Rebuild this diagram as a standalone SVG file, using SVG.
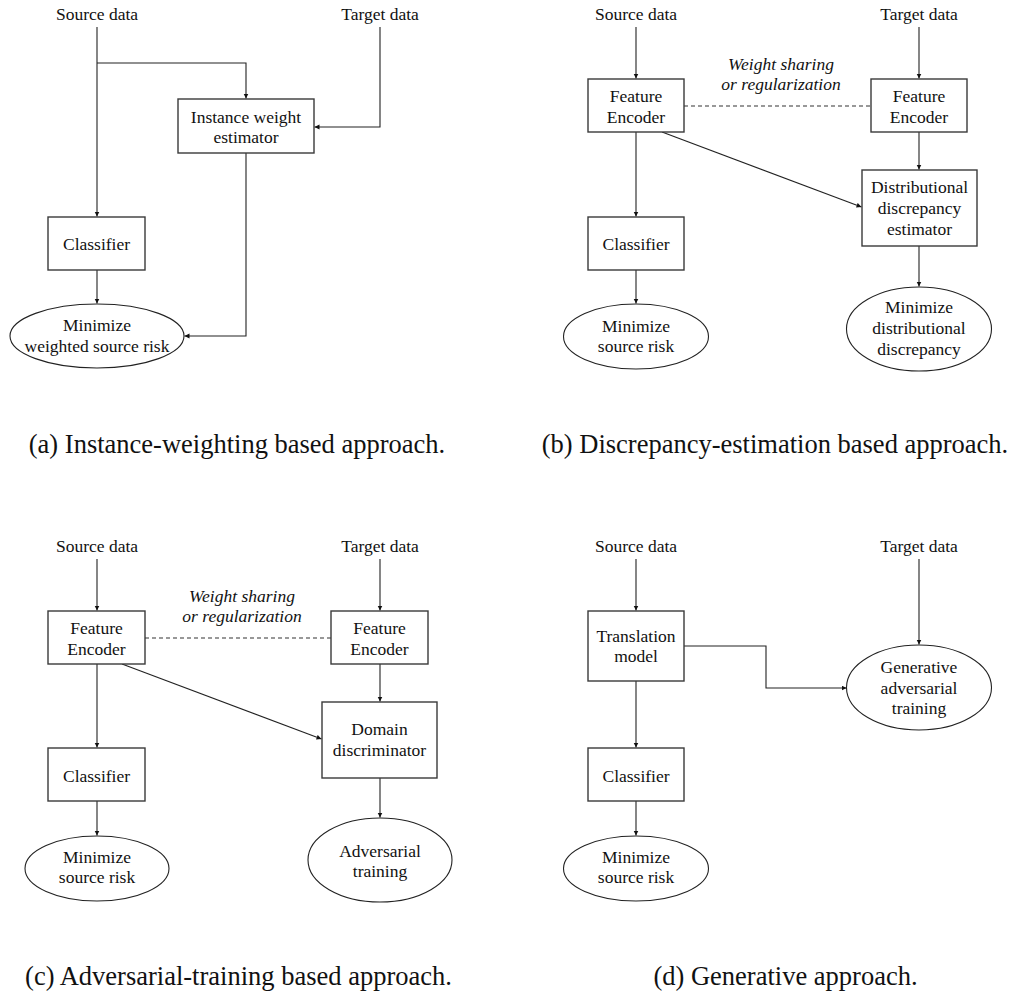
<svg xmlns="http://www.w3.org/2000/svg" width="1012" height="994" viewBox="0 0 1012 994" font-family="Liberation Serif, DejaVu Serif, serif">
  <style>
    text { font-family: 'Liberation Serif', 'DejaVu Serif', serif; fill: #111; }
    .lbl { font-size: 17.5px; text-anchor: middle; }
    .it { font-size: 17.5px; font-style: italic; text-anchor: middle; }
    .cap { font-size: 26.5px; text-anchor: middle; }
    .box { fill: #fff; stroke: #3a3a3a; stroke-width: 1.4; }
    .oval { fill: #fff; stroke: #222; stroke-width: 1.1; }
    .wire { fill: none; stroke: #222; stroke-width: 1.1; }
    .arr { marker-end: url(#head); }
    .dash { fill: none; stroke: #333; stroke-width: 1.1; stroke-dasharray: 4 3; }
  </style>
  <defs>
    <marker id="head" markerUnits="userSpaceOnUse" markerWidth="6" markerHeight="6" refX="5" refY="2.5" orient="auto">
      <path d="M0,0 L5,2.5 L0,5 z" fill="#111"/>
    </marker>
  </defs>
  <rect width="1012" height="994" fill="#fff"/>

  <!-- connectors -->
  <g id="connectors">
    <!-- (a) instance weighting -->
    <path class="wire arr" d="M97,27 V216.5"/>
    <path class="wire arr" d="M97,63 H246 V98.5"/>
    <path class="wire arr" d="M380,27 V127 H314.5"/>
    <path class="wire arr" d="M246,153 V336 H184.5"/>
    <path class="wire arr" d="M97,270 V303.5"/>
    <!-- (b) discrepancy estimation -->
    <path class="wire arr" d="M636,27 V78.5"/>
    <path class="wire arr" d="M919,27 V78.5"/>
    <path class="dash" d="M684,106 H871"/>
    <path class="wire arr" d="M636,132 V216.5"/>
    <path class="wire arr" d="M636,270 V303.5"/>
    <path class="wire arr" d="M919,132 V169.5"/>
    <path class="wire arr" d="M662,132 L861.5,207"/>
    <path class="wire arr" d="M919,246 V286.5"/>
    <!-- (c) adversarial training -->
    <path class="wire arr" d="M97,559 V610.5"/>
    <path class="wire arr" d="M380,559 V610.5"/>
    <path class="dash" d="M145,638 H331"/>
    <path class="wire arr" d="M380,664 V701.5"/>
    <path class="wire arr" d="M122,664 L321.5,739"/>
    <path class="wire arr" d="M380,778 V817.5"/>
    <path class="wire arr" d="M97,664 V747.5"/>
    <path class="wire arr" d="M97,801 V835.5"/>
    <!-- (d) generative -->
    <path class="wire arr" d="M636,559 V610.5"/>
    <path class="wire arr" d="M684,646 H766 V688 H846.5"/>
    <path class="wire arr" d="M919,559 V644.5"/>
    <path class="wire arr" d="M636,681 V747.5"/>
    <path class="wire arr" d="M636,801 V835.5"/>
  </g>

  <!-- (a) Instance-weighting based approach -->
  <g id="a-source"><text class="lbl" x="97" y="20">Source data</text></g>
  <g id="a-target"><text class="lbl" x="380" y="20">Target data</text></g>
  <g id="a-estimator">
    <rect class="box" x="178" y="99" width="136" height="54"/>
    <text class="lbl" x="246" y="122.5">Instance weight</text>
    <text class="lbl" x="246" y="143">estimator</text>
  </g>
  <g id="a-classifier">
    <rect class="box" x="48" y="217" width="97" height="53"/>
    <text class="lbl" x="96.5" y="250">Classifier</text>
  </g>
  <g id="a-risk">
    <ellipse class="oval" cx="97" cy="336" rx="87" ry="32"/>
    <text class="lbl" x="97" y="330.5">Minimize</text>
    <text class="lbl" x="97" y="351.5">weighted source risk</text>
  </g>
  <g id="a-caption"><text class="cap" x="237" y="453">(a) Instance-weighting based approach.</text></g>

  <!-- (b) Discrepancy-estimation based approach -->
  <g id="b-source"><text class="lbl" x="636" y="20">Source data</text></g>
  <g id="b-target"><text class="lbl" x="919" y="20">Target data</text></g>
  <g id="b-encoder-s">
    <rect class="box" x="588" y="79" width="96" height="53"/>
    <text class="lbl" x="636" y="101.5">Feature</text>
    <text class="lbl" x="636" y="122.5">Encoder</text>
  </g>
  <g id="b-encoder-t">
    <rect class="box" x="871" y="79" width="96" height="53"/>
    <text class="lbl" x="919" y="101.5">Feature</text>
    <text class="lbl" x="919" y="122.5">Encoder</text>
  </g>
  <g id="b-share">
    <text class="it" x="781" y="70">Weight sharing</text>
    <text class="it" x="781" y="90">or regularization</text>
  </g>
  <g id="b-classifier">
    <rect class="box" x="588" y="217" width="96" height="53"/>
    <text class="lbl" x="636" y="250">Classifier</text>
  </g>
  <g id="b-risk">
    <ellipse class="oval" cx="636" cy="336.5" rx="72.5" ry="32.5"/>
    <text class="lbl" x="636" y="331.5">Minimize</text>
    <text class="lbl" x="636" y="351.5">source risk</text>
  </g>
  <g id="b-estimator">
    <rect class="box" x="862" y="170" width="115" height="76"/>
    <text class="lbl" x="919.5" y="192.5">Distributional</text>
    <text class="lbl" x="919.5" y="213.5">discrepancy</text>
    <text class="lbl" x="919.5" y="234.5">estimator</text>
  </g>
  <g id="b-minimize">
    <ellipse class="oval" cx="919" cy="329" rx="72.5" ry="42"/>
    <text class="lbl" x="919" y="313">Minimize</text>
    <text class="lbl" x="919" y="334">distributional</text>
    <text class="lbl" x="919" y="355">discrepancy</text>
  </g>
  <g id="b-caption"><text class="cap" x="775" y="453">(b) Discrepancy-estimation based approach.</text></g>

  <!-- (c) Adversarial-training based approach -->
  <g id="c-source"><text class="lbl" x="97" y="552">Source data</text></g>
  <g id="c-target"><text class="lbl" x="380" y="552">Target data</text></g>
  <g id="c-encoder-s">
    <rect class="box" x="48" y="611" width="97" height="53"/>
    <text class="lbl" x="96.5" y="633.5">Feature</text>
    <text class="lbl" x="96.5" y="654.5">Encoder</text>
  </g>
  <g id="c-encoder-t">
    <rect class="box" x="331" y="611" width="97" height="53"/>
    <text class="lbl" x="379.5" y="633.5">Feature</text>
    <text class="lbl" x="379.5" y="654.5">Encoder</text>
  </g>
  <g id="c-share">
    <text class="it" x="242" y="602">Weight sharing</text>
    <text class="it" x="242" y="622">or regularization</text>
  </g>
  <g id="c-discriminator">
    <rect class="box" x="322" y="702" width="115" height="76"/>
    <text class="lbl" x="379.5" y="735">Domain</text>
    <text class="lbl" x="379.5" y="756">discriminator</text>
  </g>
  <g id="c-adversarial">
    <ellipse class="oval" cx="380" cy="860" rx="72" ry="42"/>
    <text class="lbl" x="380" y="856.5">Adversarial</text>
    <text class="lbl" x="380" y="877">training</text>
  </g>
  <g id="c-classifier">
    <rect class="box" x="48" y="748" width="97" height="53"/>
    <text class="lbl" x="96.5" y="781.5">Classifier</text>
  </g>
  <g id="c-risk">
    <ellipse class="oval" cx="97" cy="868.5" rx="72" ry="32.5"/>
    <text class="lbl" x="97" y="863">Minimize</text>
    <text class="lbl" x="97" y="883">source risk</text>
  </g>
  <g id="c-caption"><text class="cap" x="238.5" y="985">(c) Adversarial-training based approach.</text></g>

  <!-- (d) Generative approach -->
  <g id="d-source"><text class="lbl" x="636" y="552">Source data</text></g>
  <g id="d-target"><text class="lbl" x="919" y="552">Target data</text></g>
  <g id="d-translation">
    <rect class="box" x="588" y="611" width="96" height="70"/>
    <text class="lbl" x="636" y="642">Translation</text>
    <text class="lbl" x="636" y="662">model</text>
  </g>
  <g id="d-gan">
    <ellipse class="oval" cx="919" cy="687.5" rx="72.5" ry="42.5"/>
    <text class="lbl" x="919" y="673">Generative</text>
    <text class="lbl" x="919" y="693.5">adversarial</text>
    <text class="lbl" x="919" y="714">training</text>
  </g>
  <g id="d-classifier">
    <rect class="box" x="588" y="748" width="96" height="53"/>
    <text class="lbl" x="636" y="781.5">Classifier</text>
  </g>
  <g id="d-risk">
    <ellipse class="oval" cx="636" cy="868.5" rx="72.5" ry="32.5"/>
    <text class="lbl" x="636" y="863">Minimize</text>
    <text class="lbl" x="636" y="883">source risk</text>
  </g>
  <g id="d-caption"><text class="cap" x="785.5" y="985">(d) Generative approach.</text></g>
</svg>
